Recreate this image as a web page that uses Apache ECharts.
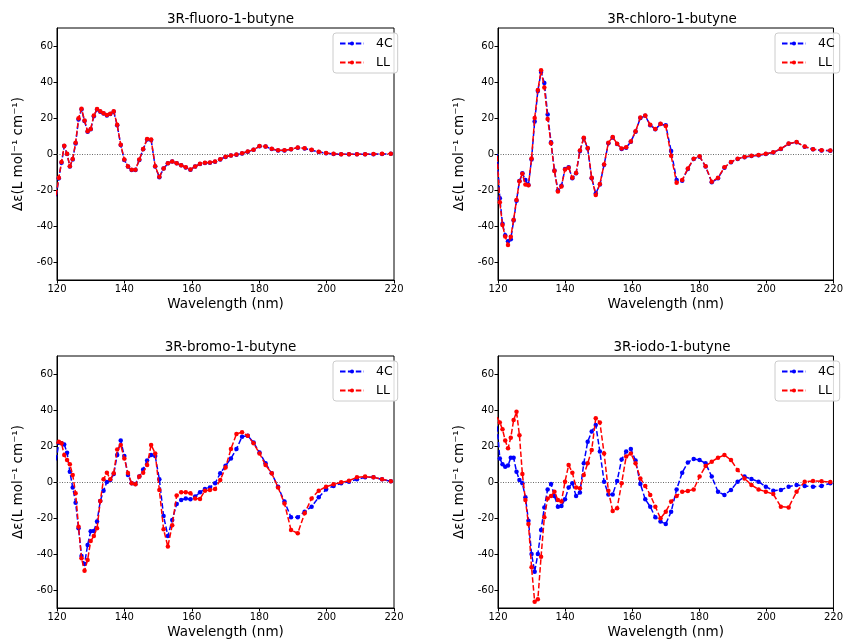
<!DOCTYPE html>
<html>
<head>
<meta charset="utf-8">
<script src="https://cdn.jsdelivr.net/npm/echarts@6/dist/echarts.min.js"></script>
<style>html,body{margin:0;padding:0;background:#fff}#c{width:846px;height:641px}</style>
</head>
<body>
<div id="c"></div>
<script>
// Wavelength grid (nm)
const wavelength = [119.75,120.54,121.34,122.15,122.98,123.81,124.66,125.52,126.39,127.27,128.17,129.08,130.00,130.93,131.88,132.84,133.81,134.80,135.81,136.83,137.86,138.91,139.98,141.06,142.16,143.28,144.42,145.57,146.74,147.93,149.14,150.37,151.63,152.90,154.19,155.51,156.85,158.21,159.59,161.00,162.44,163.90,165.38,166.90,168.44,170.01,171.61,173.25,174.91,176.60,178.33,180.09,181.89,183.72,185.59,187.50,189.45,191.44,193.48,195.55,197.67,199.84,202.06,204.32,206.64,209.01,211.43,213.91,216.45,219.06];

const fluoro4C = [-23.5,-13.5,-4.8,4.4,0,-7,-3,5.9,19.2,24.7,18.3,12.4,13.7,21,24.7,23.5,22.5,21.4,22.2,23.5,16,5,-3.3,-7,-8.9,-8.9,-3.3,2.6,8.1,7.8,-7,-12.9,-8.1,-5.2,-4.2,-5.2,-6.3,-7.5,-8.7,-7,-5.5,-5,-4.8,-4.3,-3,-1.6,-0.9,-0.4,0.3,1.3,2.3,4.3,4.1,2.8,2,2,2.6,3.5,3.1,2.2,1.1,0.4,0,-0.2,-0.2,-0.2,-0.2,-0.1,0,0.1];
const fluoroLL = [-23,-13.2,-4.5,4.6,0.2,-6.8,-2.8,6.2,19.8,25.2,18.6,12.6,13.9,21.4,25,23.8,22.7,21.6,22.4,23.8,16.2,5.2,-3.1,-6.9,-8.8,-8.8,-3.1,2.8,8.4,8,-6.8,-12.7,-8,-5.1,-4.1,-5.1,-6.2,-7.4,-8.6,-6.9,-5.4,-4.9,-4.7,-4.2,-2.9,-1.5,-0.8,-0.3,0.4,1.4,2.4,4.4,4.2,2.9,2.1,2.1,2.7,3.6,3.2,2.3,1.2,0.5,0.1,-0.1,-0.1,-0.1,-0.1,0,0.1,0.1];

const chloro4C = [0,-24.6,-38.8,-45.2,-48.5,-47.3,-37,-26,-15,-10.7,-14.5,-17.2,-3,18,35,45.6,39.5,22,6.5,-9.2,-20.3,-17.7,-8.3,-7.4,-13.5,-10.7,1.7,8.7,3.1,-13.5,-22,-17,-6,6,9.2,5.5,2.8,3.5,6.8,12.4,20,21.2,16,13.7,16.6,16,1.7,-14.4,-14.8,-8.3,-2.8,-1.5,-7,-15.7,-13.5,-7.6,-4.6,-2.8,-1.8,-1.1,-0.7,0,0.9,2.8,5.7,6.5,4,2.6,2,1.8];
const chloroLL = [-1,-26.8,-39.5,-45.8,-50.5,-46,-36.5,-25.5,-15.2,-11,-17,-17.4,-2.5,20,35.5,46.5,37,19.5,6,-9.5,-20.8,-18,-8.6,-7.6,-13.2,-10.5,2,9,3.3,-13.2,-22.8,-16.6,-5.8,6.3,9.4,5.7,3,3.7,7,12.6,20.3,21.4,16.2,13.9,16.8,15.6,-1,-16,-14.5,-8,-2.6,-1.3,-6.8,-15.4,-13.2,-7.4,-4.4,-2.6,-1.6,-1,-0.6,0.1,1,2.9,5.8,6.6,4.1,2.7,2.1,1.9];

const bromo4C = [12,21.9,21.5,20.9,16.3,5.7,-3,-11.5,-25.7,-41.1,-45.6,-35,-27.4,-27.2,-22,-10.6,-4.8,0,1.1,4.4,15,23,14.4,3.9,-0.7,-1.1,3,7,11.9,15,14.4,1.5,-18.9,-30,-21.1,-12.2,-10,-9.1,-9.6,-8.1,-5.7,-3.9,-3.1,-0.7,4.8,9,13.1,18.3,25.2,25.7,22,16.4,10.4,4.8,-2.6,-10.9,-19.6,-19.6,-16.5,-13.7,-8.5,-4.1,-2.2,-0.7,0.2,1.5,2.6,2.6,1.5,0.4];
const bromoLL = [21.5,22.4,21.5,15,12.2,9.8,3.9,-6.3,-24.8,-42.4,-49.3,-43.3,-32.8,-30,-25.7,-10.6,1.5,5.2,1.5,4.8,18,20.5,13,5,-0.7,-1.3,3,5.2,9.4,20.6,15.9,-4.4,-26.3,-35.9,-24,-7.5,-5.7,-5.7,-6.3,-9.1,-9.4,-4.8,-4.4,-3.9,1.1,8,18.3,26.7,27.6,25.7,21.5,15.9,9.4,4.8,-3,-11.9,-26.7,-28.5,-17.4,-9.1,-4.8,-2.6,-1.3,-0.2,0.7,2.6,3,2.6,1.5,0.4];

const iodo4C = [31,13.1,9.8,8.5,9.1,13.5,13.5,5.7,1.1,-0.7,-8.5,-21.5,-40,-49.8,-40,-26.7,-14.1,-4.1,-1.1,-7.8,-13.7,-13.3,-9.6,-3,-0.7,-7.8,-5.9,10.4,22.4,28,31.7,16.9,0.2,-6.9,-6.9,0.6,12.5,16.9,18.3,11.9,-1.1,-9.6,-13.7,-19.6,-22,-23.3,-16.5,-4.1,5.2,10.9,12.8,12.2,10.4,3,-5.4,-7.2,-4.4,0.2,3,1.7,0.2,-2.6,-4.8,-4.4,-2.6,-1.7,-2.2,-2.6,-2.2,-0.7];
const iodoLL = [36,33,29.3,23,18.7,24.6,34.4,39,26,4.4,-10,-23.3,-47.4,-66.5,-65.2,-41.5,-19.6,-9.1,-7.8,-5.4,-10,-10.9,0.2,9.4,5.2,-3,-3.5,3.9,10.4,17.8,35.4,33,15.9,-4.8,-16.1,-14.6,-0.7,14.1,15.9,10.4,2,-2.2,-7.2,-13.7,-20.2,-16.5,-10.9,-7.8,-5.4,-5,-4.1,3,8.9,11.3,13.5,15,12.2,6.7,2,-1.7,-4.1,-5.4,-6.7,-13.7,-14.1,-5.4,0.2,0.6,0.4,0];

const titles = ['3R-fluoro-1-butyne','3R-chloro-1-butyne','3R-bromo-1-butyne','3R-iodo-1-butyne'];
const seriesNames = ['4C','LL'];
const xTicks = [120,140,160,180,200,220];
const yTicks = [-60,-40,-20,0,20,40,60];
const panels = [[fluoro4C,fluoroLL],[chloro4C,chloroLL],[bromo4C,bromoLL],[iodo4C,iodoLL]];

const boxes = [
  {left:57, top:28, width:337, height:252},
  {left:498, top:28, width:338, height:252},
  {left:57, top:356, width:337, height:252},
  {left:498, top:356, width:338, height:252}
];
const FONT = 'DejaVu Sans';
const colors = ['#0000ff','#ff0000'];

const option = {
  animation:false,
  backgroundColor:'#fff',
  title:[], grid:[], xAxis:[], yAxis:[], legend:[], series:[]
};

boxes.forEach((b,i)=>{
  option.title.push({text:titles[i], left:b.left+b.width/2, top:b.top-21, textAlign:'center',
    textStyle:{fontFamily:FONT,fontSize:13.5,fontWeight:'normal',color:'#000'}});
  option.grid.push({left:b.left, top:b.top, width:b.width, height:b.height, show:true,
    borderColor:'#000', borderWidth:1, backgroundColor:'#fff'});
  option.xAxis.push({type:'value', gridIndex:i, min:120, max:220, interval:20,
    name:'Wavelength (nm)', nameLocation:'middle', nameGap:17,
    nameTextStyle:{fontFamily:FONT,fontSize:13.5,color:'#000'},
    axisLine:{show:true,onZero:false,lineStyle:{color:'#000',width:1}},
    axisTick:{show:true,length:3.5,lineStyle:{color:'#000'}},
    axisLabel:{fontFamily:FONT,fontSize:10,color:'#000',margin:4},
    splitLine:{show:false}});
  option.yAxis.push({type:'value', gridIndex:i, min:-70, max:70,
    name:'Δε(L mol⁻¹ cm⁻¹)', nameLocation:'middle', nameGap:32, nameRotate:90,
    nameTextStyle:{fontFamily:FONT,fontSize:13.5,color:'#000'},
    axisLine:{show:true,onZero:false,lineStyle:{color:'#000',width:1}},
    axisTick:{show:true,length:3.5,lineStyle:{color:'#000'},customValues:yTicks},
    axisLabel:{fontFamily:FONT,fontSize:10,color:'#000',margin:4,customValues:yTicks},
    splitLine:{show:false}});
  option.legend.push({orient:'vertical', left:b.left+b.width-61, top:b.top+5,
    data:seriesNames, itemWidth:24, itemHeight:5, itemGap:6,
    padding:[4,5,4,6], borderColor:'#cccccc', borderWidth:1, borderRadius:3,
    backgroundColor:'rgba(255,255,255,0.85)',
    textStyle:{fontFamily:FONT,fontSize:12.5,color:'#000',padding:[0,0,0,7]}});
  panels[i].forEach((vals,s)=>{
    const ser = {name:seriesNames[s], type:'line', xAxisIndex:i, yAxisIndex:i,
      data: wavelength.map((w,k)=>[w, vals[k]]),
      symbol:'circle', symbolSize:4.5, showSymbol:true, clip:true,
      itemStyle:{color:colors[s]},
      lineStyle:{color:colors[s], width:1.5, type:[5.5,2.4]},
      z: 3+s};
    if(s===0){
      ser.markLine = {silent:true, symbol:['none','none'], label:{show:false},
        lineStyle:{color:'#444', type:[1,1.5], width:0.8}, data:[{yAxis:0}], z:1};
    }
    option.series.push(ser);
  });
});

const chart = echarts.init(document.getElementById('c'), null, {renderer:'canvas'});
chart.setOption(option);
</script>
</body>
</html>
